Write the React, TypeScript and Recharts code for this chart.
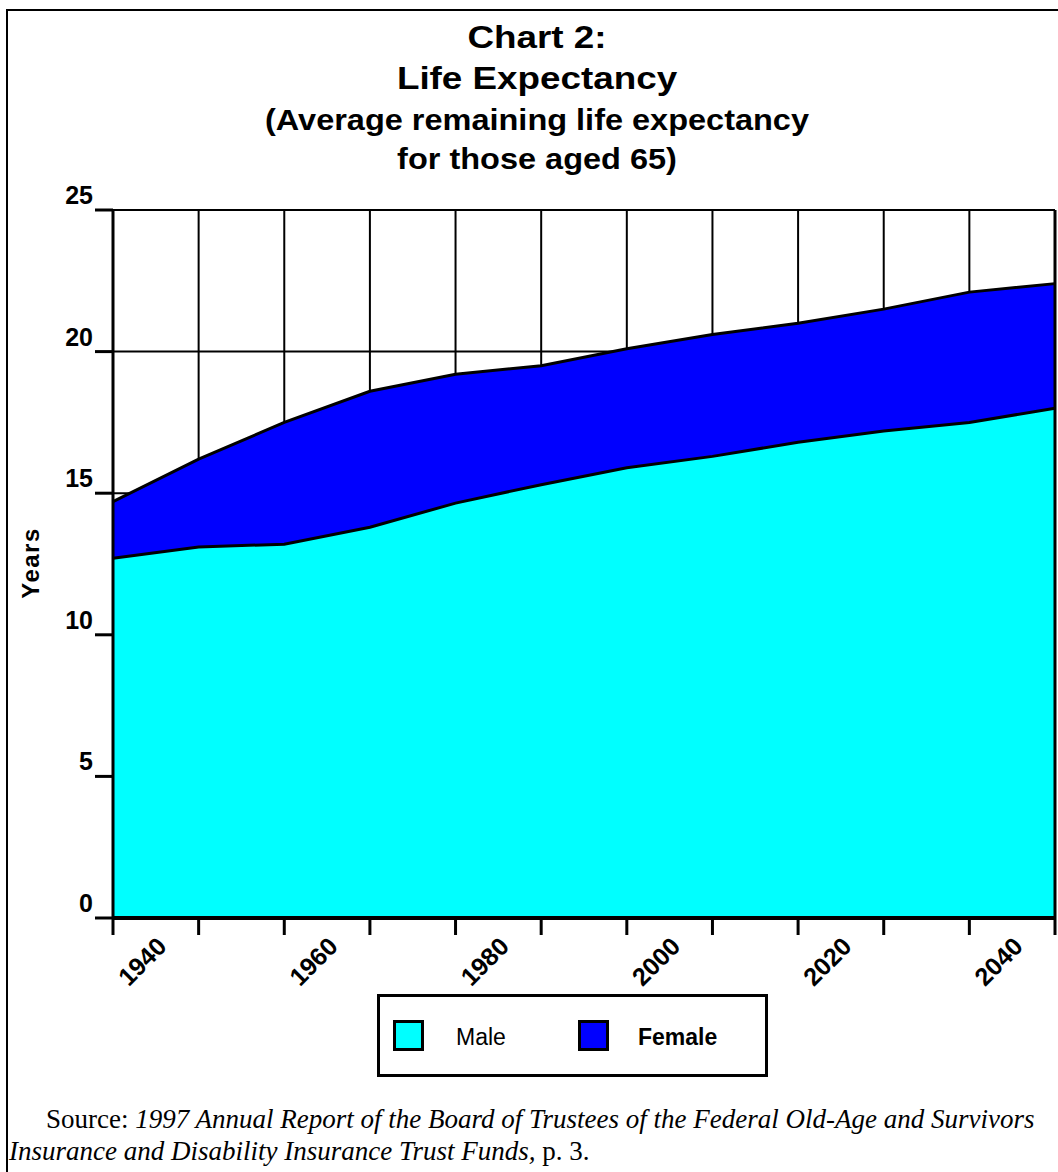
import React from 'react';
import { AreaChart, Area, XAxis, YAxis, CartesianGrid, ReferenceLine } from 'recharts';

// years every 10 (years remaining at 65)
const years = [1940, 1950, 1960, 1970, 1980, 1990, 2000, 2010, 2020, 2030, 2040, 2050];
const male = [12.7, 13.1, 13.2, 13.8, 14.65, 15.3, 15.9, 16.3, 16.8, 17.2, 17.5, 18.0];
const female = [14.7, 16.2, 17.5, 18.6, 19.2, 19.5, 20.1, 20.6, 21.0, 21.5, 22.1, 22.4];
const yTicks = [0, 5, 10, 15, 20, 25];
const xLabels = [1940, 1960, 1980, 2000, 2020, 2040];

const data = years.map((year, i) => ({ year, male: male[i], female: female[i] }));

const SANS = '"Liberation Sans", Arial, sans-serif';
const SERIF = '"Liberation Serif", "Times New Roman", serif';

// eslint-disable-next-line @typescript-eslint/no-explicit-any
function XTick({ x, y, payload }: any) {
    if (!xLabels.includes(payload.value)) return <g />;
    const ax = x + 55;
    const ay = y + 13;
    return (
        <text x={ax} y={ay} transform={`rotate(-45 ${ax} ${ay})`} textAnchor="end"
            fontFamily={SANS} fontWeight={700} fontSize={25} fill="#000">
            {payload.value}
        </text>
    );
}

// eslint-disable-next-line @typescript-eslint/no-explicit-any
function YTick({ x, y, payload }: any) {
    return (
        <text x={x} y={y - 6} textAnchor="end" fontFamily={SANS} fontWeight={700} fontSize={25} fill="#000">
            {payload.value}
        </text>
    );
}

function TitleLine({ text, top, size, stretch }: { text: string; top: number; size: number; stretch: number }) {
    return (
        <div style={{
            position: 'absolute', left: 0, top, width: 1074, textAlign: 'center',
            fontFamily: SANS, fontWeight: 700, fontSize: size, lineHeight: 1,
            transform: `scaleX(${stretch})`, whiteSpace: 'nowrap',
        }}>{text}</div>
    );
}

function Swatch({ left, color }: { left: number; color: string }) {
    return <div style={{
        position: 'absolute', left, top: 1020, width: 25, height: 25,
        background: color, border: '3px solid #000',
    }} />;
}

export default function App() {
    return (
        <div style={{ position: 'absolute', left: 0, top: 0, width: 1058, height: 1172, overflow: 'hidden', background: '#fff' }}>
            {/* page frame, only top and left edges visible */}
            <div style={{ position: 'absolute', left: 6, top: 9, width: 1100, height: 1200, borderTop: '2px solid #000', borderLeft: '2px solid #000' }} />

            <TitleLine text="Chart 2:" top={21} size={32} stretch={1.15} />
            <TitleLine text="Life Expectancy" top={62} size={32} stretch={1.15} />
            <TitleLine text="(Average remaining life expectancy" top={106} size={29} stretch={1.12} />
            <TitleLine text="for those aged 65)" top={145} size={29} stretch={1.12} />

            <div style={{ position: 'absolute', left: 0, top: 0 }}>
                <AreaChart width={1058} height={1000} data={data} margin={{ top: 210, right: 3, left: 53, bottom: 22 }}>
                    <CartesianGrid stroke="#000" strokeWidth={2} />
                    <Area type="linear" dataKey="female" fill="#0000ff" fillOpacity={1} stroke="#000" strokeWidth={3}
                        dot={false} activeDot={false} isAnimationActive={false} />
                    <Area type="linear" dataKey="male" fill="#00ffff" fillOpacity={1} stroke="#000" strokeWidth={3}
                        dot={false} activeDot={false} isAnimationActive={false} />
                    <ReferenceLine x={2050} stroke="#000" strokeWidth={3} />
                    <XAxis dataKey="year" type="number" domain={[1940, 2050]} ticks={years} height={60}
                        axisLine={{ stroke: '#000', strokeWidth: 4 }} tickLine={{ stroke: '#000', strokeWidth: 3 }}
                        tickSize={17} tickMargin={0} tick={<XTick />} interval={0} />
                    <YAxis type="number" domain={[0, 25]} ticks={yTicks} width={60}
                        axisLine={{ stroke: '#000', strokeWidth: 3 }} tickLine={{ stroke: '#000', strokeWidth: 3 }}
                        tickSize={18} tickMargin={2} tick={<YTick />} interval={0} />
                </AreaChart>
            </div>

            <div style={{
                position: 'absolute', left: 31, top: 563, fontFamily: SANS, fontWeight: 700, fontSize: 24,
                transform: 'translate(-50%, -50%) rotate(-90deg)', letterSpacing: 1.5, whiteSpace: 'nowrap',
            }}>Years</div>

            {/* legend */}
            <div style={{ position: 'absolute', left: 377, top: 994, width: 385, height: 77, border: '3px solid #000' }} />
            <Swatch left={393} color="#00ffff" />
            <div style={{ position: 'absolute', left: 456, top: 1026, fontFamily: SANS, fontSize: 23, lineHeight: 1 }}>Male</div>
            <Swatch left={578} color="#0000ff" />
            <div style={{ position: 'absolute', left: 638, top: 1026, fontFamily: SANS, fontWeight: 700, fontSize: 23, lineHeight: 1 }}>Female</div>

            {/* source note */}
            <div style={{ position: 'absolute', left: 9, top: 1103, width: 1100, fontFamily: SERIF, fontSize: 27, lineHeight: '32px', color: '#000' }}>
                <div style={{ paddingLeft: 37, whiteSpace: 'nowrap' }}>
                    Source: <i>1997 Annual Report of the Board of Trustees of the Federal Old-Age and Survivors</i>
                </div>
                <div style={{ whiteSpace: 'nowrap' }}>
                    <i>Insurance and Disability Insurance Trust Funds,</i> p. 3.
                </div>
            </div>
        </div>
    );
}
